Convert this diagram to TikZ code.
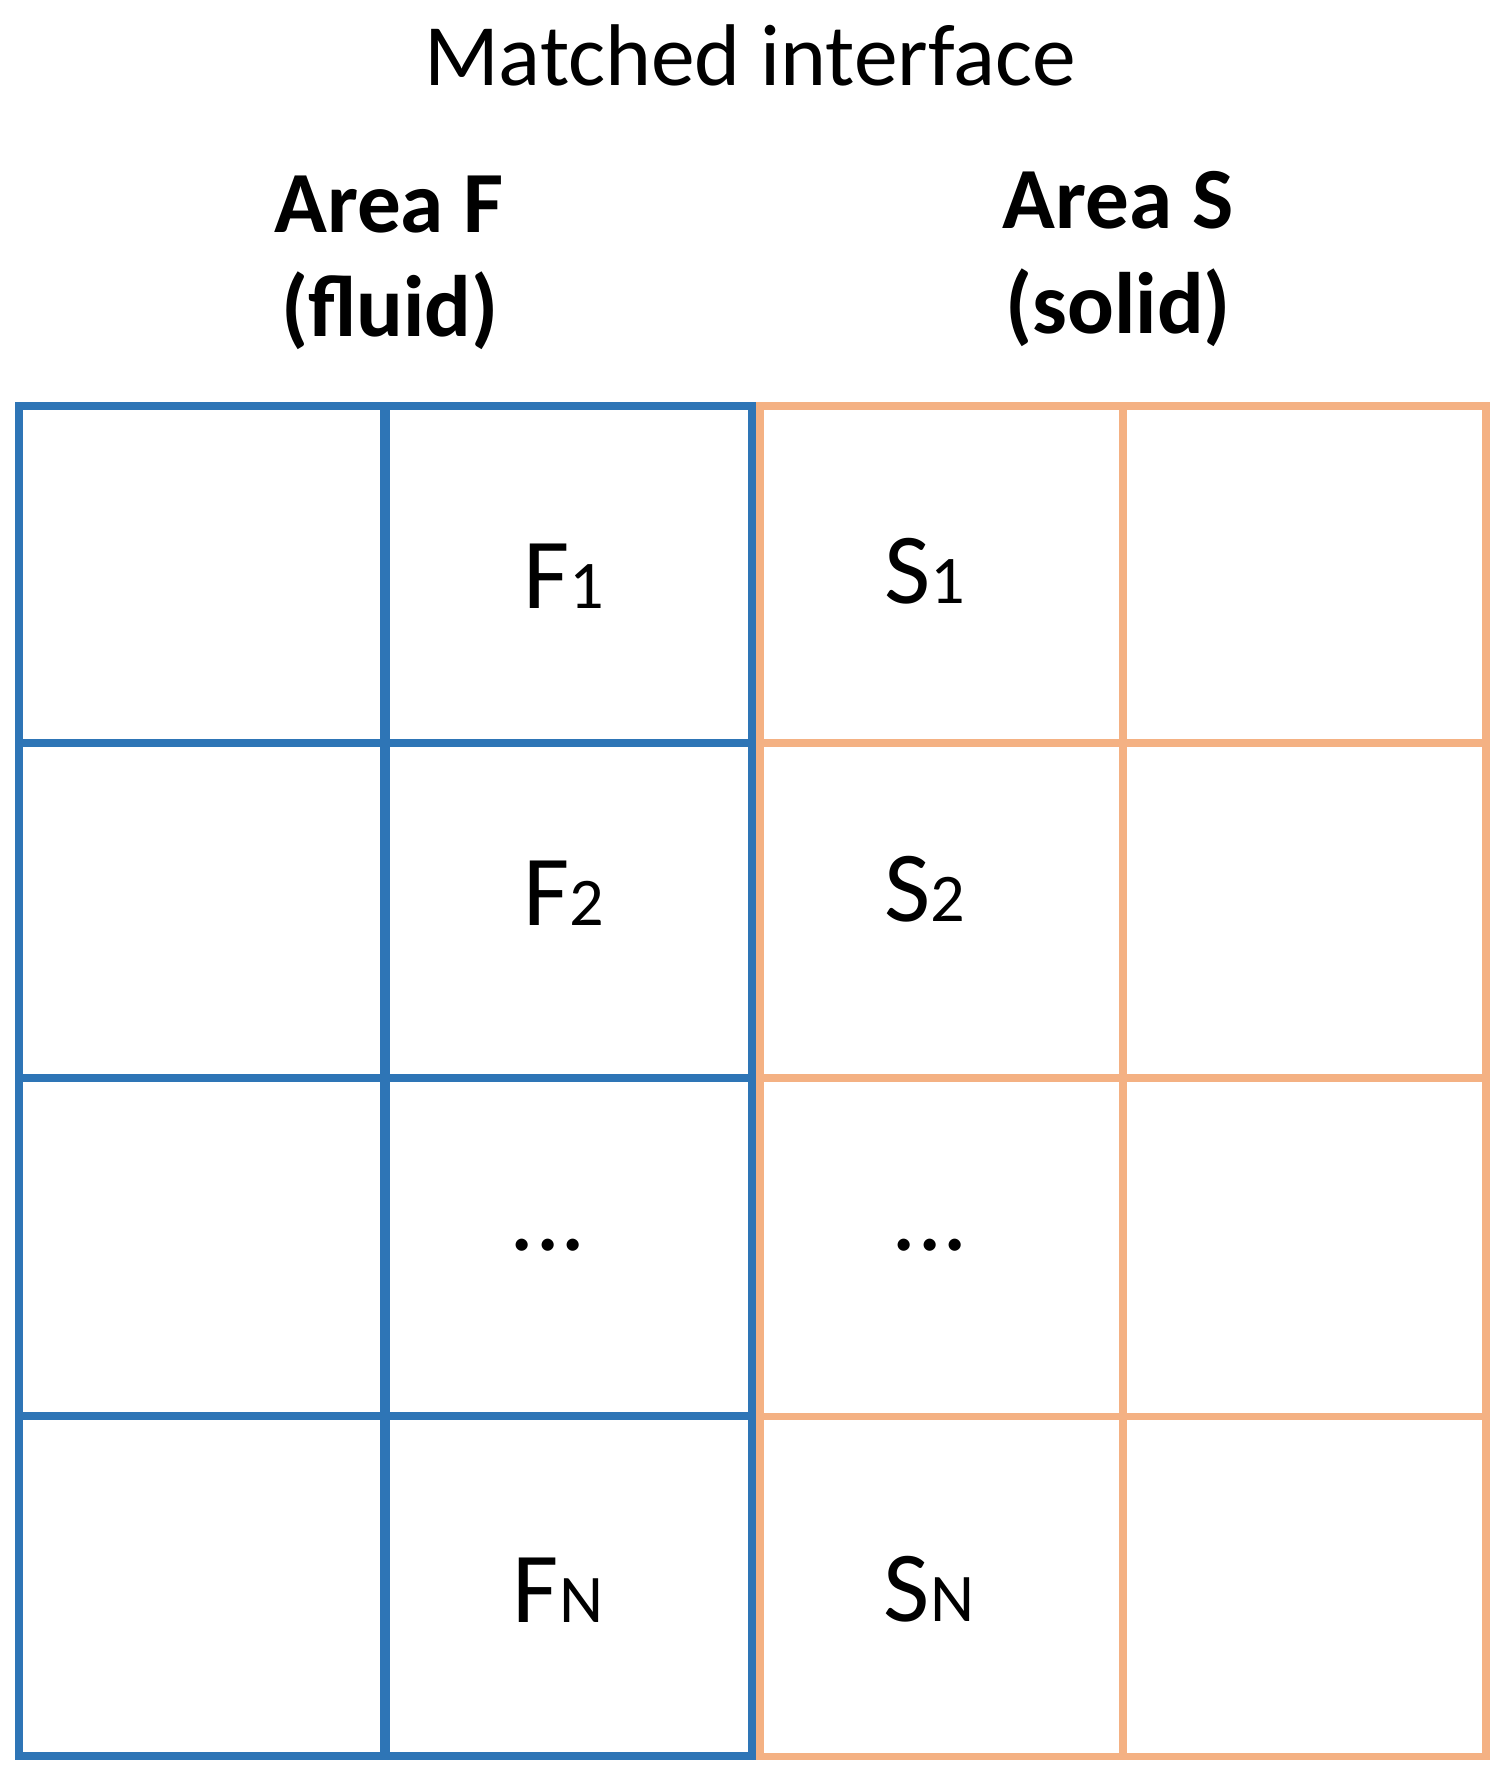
\documentclass[tikz,border=0pt]{standalone}
\usepackage{fontspec}
\setmainfont{Carlito}
\usetikzlibrary{positioning}

\definecolor{fluidblue}{HTML}{2E75B6}
\definecolor{solidorange}{HTML}{F4B183}
\newcommand{\idx}[1]{{\fontsize{19.4pt}{20pt}\selectfont #1}}
\newcommand{\moredots}{...}

\tikzset{
  fluid grid/.style={draw=fluidblue, line width=2.2pt},
  solid grid/.style={draw=solidorange, line width=2pt},
  cell label/.style={anchor=base, inner sep=0pt, font=\fontsize{28.6pt}{30pt}\selectfont},
  area label/.style={anchor=base, inner sep=0pt, font=\bfseries\fontsize{24.8pt}{30pt}\selectfont},
}

\begin{document}
\begin{tikzpicture}[x=0.01cm, y=-0.01cm]
    \useasboundingbox (0,0) rectangle (1510,1787);

    % Title
    \node[anchor=base, inner sep=0pt, font=\fontsize{24.9pt}{28pt}\selectfont] (title) at (750,85) {Matched interface};

    % --- Area headers ---
    \node[area label] (areaF) at (389,232) {Area F};
    \node[area label] (fluid) at (390,336) {(fluid)};
    \node[area label] (areaS) at (1118,228) {Area S};
    \node[area label] (solid) at (1118,333) {(solid)};

    % --- Fluid grid (blue) ---
    \foreach \y in {743,1078,1416}
        \draw[fluid grid] (19,\y) -- (752,\y);
    \draw[fluid grid, line width=2.85pt] (385,406) -- (385,1756);
    \draw[fluid grid] (19,406) rectangle (752,1756);

    % --- Solid grid (orange) ---
    \foreach \y in {743,1078,1416}
        \draw[solid grid] (760,\y) -- (1486,\y);
    \draw[solid grid] (1123,406) -- (1123,1756);
    \draw[solid grid] (760,406) rectangle (1486,1756);

    % --- Cells at the interface ---
    \foreach \name/\txt/\x/\y in {F1/F\idx{1}/564/608, F2/F\idx{2}/564/925, Fdots/\moredots/548/1250, FN/F\idx{N}/558/1622}
        \node[cell label] (\name) at (\x,\y) {\txt};
    \foreach \name/\txt/\x/\y in {S1/S\idx{1}/925/603, S2/S\idx{2}/925/921, Sdots/\moredots/930/1250, SN/S\idx{N}/929/1621}
        \node[cell label] (\name) at (\x,\y) {\txt};

\end{tikzpicture}
\end{document}
